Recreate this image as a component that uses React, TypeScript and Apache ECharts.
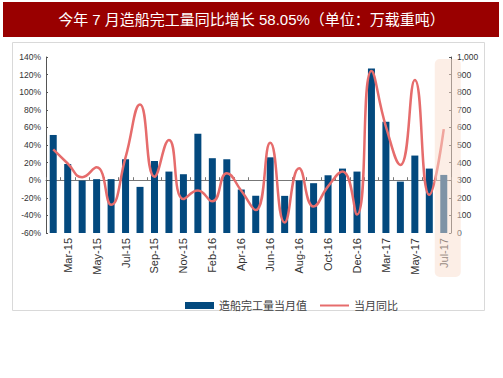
import React, { useEffect, useRef } from 'react';
import * as echarts from 'echarts';

const categories = [
  'Feb-15', 'Mar-15', 'Apr-15', 'May-15', 'Jun-15', 'Jul-15', 'Aug-15', 'Sep-15', 'Oct-15', 'Nov-15',
  'Dec-15', 'Feb-16', 'Mar-16', 'Apr-16', 'May-16', 'Jun-16', 'Jul-16', 'Aug-16', 'Sep-16', 'Oct-16',
  'Nov-16', 'Dec-16', 'Feb-17', 'Mar-17', 'Apr-17', 'May-17', 'Jun-17', 'Jul-17',
];

// 造船完工量当月值（万载重吨）
const completions = [
  557, 392, 298, 306, 306, 419, 262, 409, 349, 334,
  564, 425, 419, 247, 211, 430, 211, 298, 283, 328,
  366, 349, 934, 632, 292, 440, 366, 330,
];

// 当月同比（%）
const yoy = [
  35, 19, 3.4, 14.7, -28, 26, 86, 4, 45.7, -21.5,
  -11.7, -24, 8, -12, -34, 42.6, -48, 13.6, -30, -7,
  10, -39, 124, 61, 17.4, 114, -16.6, 58.05,
];

const titleText = '今年 7 月造船完工量同比增长 58.05%（单位：万载重吨）';
const barName = '造船完工量当月值';
const lineName = '当月同比';

const CJK = '"Liberation Sans", "Noto Sans CJK SC", sans-serif';
const LAT = '"Liberation Sans", Arial, sans-serif';

export default function App() {
  const ref = useRef<HTMLDivElement>(null);

  useEffect(() => {
    if (!ref.current) return;
    const chart = echarts.init(ref.current, null, { renderer: 'svg' });
    const option: any = {
      animation: false,
      backgroundColor: '#ffffff',
      title: {
        text: titleText,
        left: 'center',
        top: 12,
        padding: 0,
        textStyle: { color: '#ffffff', fontSize: 15, fontWeight: 'normal', fontFamily: CJK },
      },
      graphic: [
        {
          id: 'titleBar',
          type: 'rect',
          z: 0,
          shape: { x: 3, y: 2, width: 496, height: 35 },
          style: { fill: '#990000' },
        },
        {
          id: 'frame',
          type: 'rect',
          z: 0,
          shape: { x: 12.5, y: 42.5, width: 472, height: 268 },
          style: { fill: 'none', stroke: '#d9d9d9', lineWidth: 1 },
        },
      ],
      legend: {
        left: 180,
        top: 295,
        itemWidth: 29,
        itemHeight: 7,
        itemGap: 12,
        textStyle: { fontSize: 11, color: '#404040', fontFamily: CJK },
        data: [
          { name: barName, icon: 'rect' },
          { name: lineName, itemStyle: { opacity: 0 } },
        ],
      },
      grid: { left: 46, right: 52, top: 57, bottom: 145 },
      xAxis: {
        type: 'category',
        data: categories,
        boundaryGap: true,
        axisLine: { lineStyle: { color: '#777', width: 1 } },
        axisTick: { show: true, inside: true, length: 3, interval: 0, lineStyle: { color: '#777' } },
        axisLabel: {
          interval: (i: number) => i % 2 === 1,
          rotate: 90,
          margin: 5,
          fontSize: 11,
          color: '#333',
          fontFamily: LAT,
        },
        splitLine: { show: false },
      },
      yAxis: [
        {
          type: 'value',
          min: -60,
          max: 140,
          interval: 20,
          position: 'left',
          axisLine: { show: true, lineStyle: { color: '#555' } },
          axisTick: { show: true, inside: true, length: 2, lineStyle: { color: '#555' } },
          axisLabel: { formatter: '{value}%', fontSize: 8.5, color: '#333', margin: 5, fontFamily: LAT },
          splitLine: { show: false },
        },
        {
          type: 'value',
          min: 0,
          max: 1000,
          interval: 100,
          position: 'right',
          axisLine: { show: true, lineStyle: { color: '#555' } },
          axisTick: { show: true, inside: true, length: 2, lineStyle: { color: '#555' } },
          axisLabel: {
            formatter: (v: number) => v.toLocaleString('en-US'),
            fontSize: 8.5,
            color: '#333',
            margin: 6,
            fontFamily: LAT,
          },
          splitLine: { show: false },
        },
      ],
      series: [
        {
          name: barName,
          type: 'bar',
          yAxisIndex: 1,
          data: completions,
          barWidth: 7,
          itemStyle: { color: '#03497e' },
        },
        {
          name: lineName,
          type: 'line',
          yAxisIndex: 0,
          data: yoy,
          smooth: 0.5,
          symbol: 'none',
          lineStyle: { color: '#e66c6c', width: 2.5 },
          itemStyle: { color: '#e66c6c' },
        },
      ],
    };
    chart.setOption(option);

    const last = categories[categories.length - 1];
    const cx = chart.convertToPixel({ xAxisIndex: 0 }, last) as number;
    chart.setOption({
      graphic: [
        {
          id: 'highlight',
          type: 'rect',
          z: 100,
          shape: { x: cx - 9, y: 59, width: 26, height: 218, r: 5 },
          style: { fill: 'rgba(250, 222, 205, 0.5)' },
        },
      ],
    });

    return () => chart.dispose();
  }, []);

  return (
    <div
      ref={ref}
      style={{ position: 'fixed', left: 0, top: 0, width: 503, height: 378 }}
    />
  );
}
